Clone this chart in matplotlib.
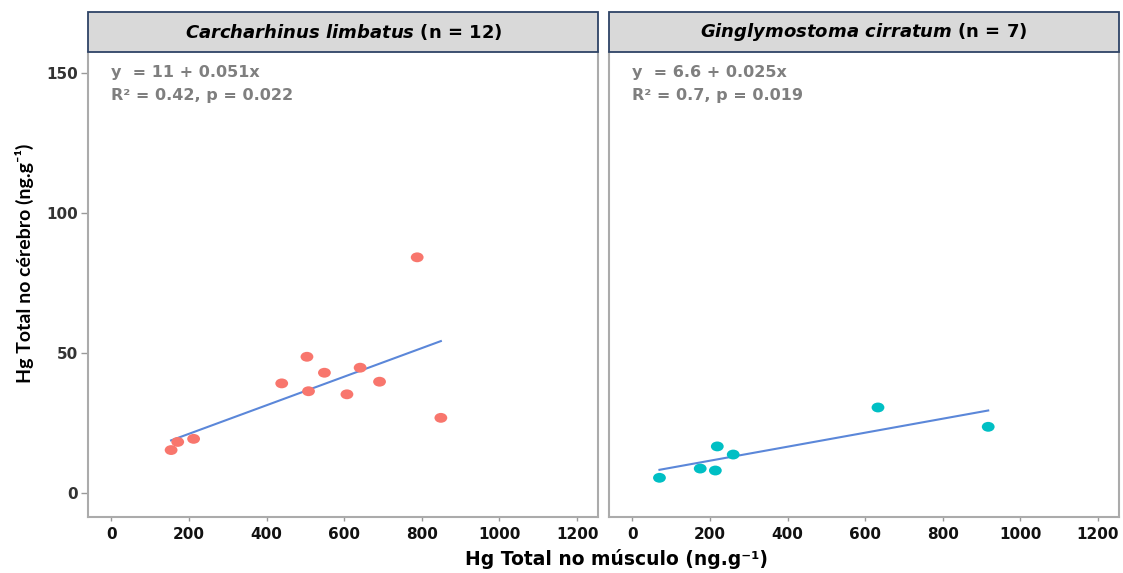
import matplotlib
matplotlib.use("Agg")
import matplotlib.pyplot as plt
from matplotlib.patches import Rectangle
from matplotlib.path import Path
from matplotlib.transforms import Affine2D
import numpy as np

plt.rcParams['mathtext.fontset'] = 'custom'
plt.rcParams['mathtext.rm'] = 'DejaVu Sans:bold'
plt.rcParams['mathtext.it'] = 'DejaVu Sans:italic:bold'
plt.rcParams['mathtext.bf'] = 'DejaVu Sans:bold'

# Hg no músculo (x) e no cérebro (y), ng/g
limbatus_x = [154, 171, 212, 439, 504, 508, 549, 607, 641, 691, 788, 849]
limbatus_y = [15.4, 18.3, 19.4, 39.2, 48.7, 36.4, 43.0, 35.3, 44.8, 39.8, 84.2, 26.9]
cirratum_x = [70, 175, 214, 219, 260, 633, 917]
cirratum_y = [5.5, 8.8, 8.1, 16.7, 13.8, 30.6, 23.7]

panels = [
    dict(name="Carcharhinus\\ limbatus", n=12, x=limbatus_x, y=limbatus_y,
         a=11, b=0.051, eq="y  = 11 + 0.051x", stats="R² = 0.42, p = 0.022",
         color="#F8766D"),
    dict(name="Ginglymostoma\\ cirratum", n=7, x=cirratum_x, y=cirratum_y,
         a=6.6, b=0.025, eq="y  = 6.6 + 0.025x", stats="R² = 0.7, p = 0.019",
         color="#00BFC4"),
]

xticks = [0, 200, 400, 600, 800, 1000, 1200]
yticks = [0, 50, 100, 150]

# ponto levemente achatado
dot = Path.unit_circle().transformed(Affine2D().scale(1.3, 1.0))

fig = plt.figure(figsize=(11.23, 5.73), dpi=100)
lefts = [0.0784, 0.5423]
bottom, height, width = 0.0977, 0.8116, 0.4545
strip_h = 0.0698

for i, p in enumerate(panels):
    ax = fig.add_axes([lefts[i], bottom, width, height])
    ax.scatter(p['x'], p['y'], s=85, marker=dot, color=p['color'],
               edgecolors='none', zorder=3)
    xs = np.array([min(p['x']), max(p['x'])])
    ax.plot(xs, p['a'] + p['b'] * xs, color='#5B87D9', lw=1.5, zorder=2)

    ax.set_xlim(-60, 1255)
    ax.set_ylim(-8.5, 157.5)
    ax.set_xticks(xticks)
    ax.set_yticks(yticks)
    ax.set_xticklabels([str(t) for t in xticks], fontsize=11, fontweight='bold',
                       family='DejaVu Sans', color='#111111')
    if i == 0:
        ax.set_yticklabels([str(t) for t in yticks], fontsize=11, fontweight='bold',
                           family='DejaVu Sans', color='#333333')
        ax.tick_params(axis='y', length=5, width=1, color='#999999', pad=2)
    else:
        ax.tick_params(axis='y', left=False, labelleft=False)
    ax.tick_params(axis='x', length=3, width=1, color='#999999', pad=4)

    for side in ['left', 'right', 'bottom']:
        ax.spines[side].set_color('#ABABAB')
        ax.spines[side].set_linewidth(1.5)
    ax.spines['top'].set_visible(False)

    ax.text(0, 150, p['eq'], fontsize=11.5, fontweight='bold', color='#7F7F7F',
            family='DejaVu Sans', va='center', ha='left')
    ax.text(0, 142, p['stats'], fontsize=11.5, fontweight='bold', color='#7F7F7F',
            family='DejaVu Sans', va='center', ha='left')

    # faixa do título de cada painel
    fig.patches.append(Rectangle((lefts[i], bottom + height), width, strip_h,
                                 transform=fig.transFigure, facecolor='#D9D9D9',
                                 edgecolor='#2E4366', lw=1.3, zorder=5))
    fig.text(lefts[i] + width / 2, bottom + height + strip_h / 2,
             "$\\mathit{" + p['name'] + "}$ (n = " + str(p['n']) + ")",
             fontsize=13, fontweight='bold', family='DejaVu Sans', ha='center',
             va='center', color='black', zorder=6)

fig.text(0.549, 0.024, "Hg Total no músculo (ng.g⁻¹)", fontsize=13.5,
         fontweight='bold', family='DejaVu Sans', ha='center', va='center')
fig.text(0.022, 0.54, "Hg Total no cérebro (ng.g⁻¹)", fontsize=14,
         fontweight='bold', family=['Lato', 'DejaVu Sans'], ha='center',
         va='center', rotation=90)

fig.savefig("out.png", dpi=100)
